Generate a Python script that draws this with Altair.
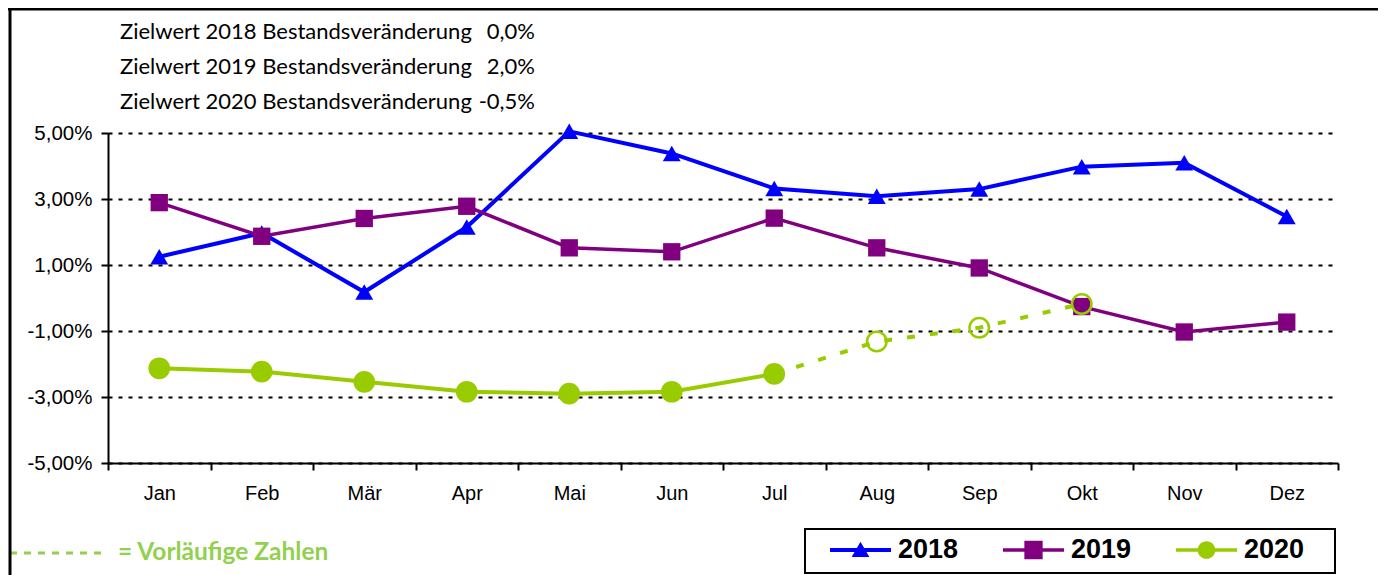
import altair as alt
import pandas as pd

# ---------------- data ----------------
months = ["Jan", "Feb", "Mär", "Apr", "Mai", "Jun", "Jul", "Aug", "Sep", "Okt", "Nov", "Dez"]
v2018 = [1.25, 1.97, 0.18, 2.15, 5.05, 4.38, 3.32, 3.08, 3.30, 3.98, 4.10, 2.47]
v2019 = [2.89, 1.87, 2.41, 2.78, 1.52, 1.40, 2.42, 1.52, 0.91, -0.26, -1.03, -0.73]
v2020 = [-2.13, -2.23, -2.54, -2.84, -2.90, -2.84, -2.30, -1.32, -0.90, -0.18]
n_final_2020 = 7  # Jan..Jul final, Aug..Okt preliminary

years = ["2018", "2019", "2020"]
colors = ["#0000FF", "#800080", "#99CC00"]

ziel_labels = ["Zielwert 2018 Bestandsveränderung",
               "Zielwert 2019 Bestandsveränderung",
               "Zielwert 2020 Bestandsveränderung"]
ziel_values = ["0,0%", "2,0%", "-0,5%"]
note_text = "= Vorläufige Zahlen"

rows = []
for yr, vals in zip(years, [v2018, v2019, v2020]):
    for i, v in enumerate(vals):
        rows.append({"Jahr": yr, "Monat": months[i], "idx": i, "Wert": v})
df = pd.DataFrame(rows)

# ---------------- encodings ----------------
x = alt.X("Monat:N",
          scale=alt.Scale(type="band", domain=months, paddingInner=0, paddingOuter=0),
          axis=alt.Axis(title=None, labelAngle=0, tickBand="extent",
                        labelFont="Liberation Sans", labelFontSize=20, labelColor="black",
                        labelPadding=13, tickSize=7, tickWidth=2, tickColor="black",
                        domainColor="black", domainWidth=2, grid=False))
y = alt.Y("Wert:Q",
          scale=alt.Scale(domain=[-5, 5], nice=False, zero=False),
          axis=alt.Axis(title=None, values=[-5, -3, -1, 1, 3, 5],
                        labelExpr="(datum.value < 0 ? '-' : '') + replace(format(abs(datum.value), '.2f'), '.', ',') + '%'",
                        labelFont="Liberation Sans", labelFontSize=20.5, labelColor="black",
                        labelPadding=9, tickSize=7, tickWidth=2, tickColor="black",
                        domainColor="black", domainWidth=2,
                        grid=True, gridColor="black", gridDash=[4, 6], gridWidth=2))

base = alt.Chart(df)

line18 = base.transform_filter("datum.Jahr == '2018'").mark_line(
    color=colors[0], strokeWidth=4).encode(x=x, y=y)
line19 = base.transform_filter("datum.Jahr == '2019'").mark_line(
    color=colors[1], strokeWidth=3.5).encode(x=x, y=y)
line20a = base.transform_filter(f"datum.Jahr == '2020' && datum.idx <= {n_final_2020 - 1}").mark_line(
    color=colors[2], strokeWidth=4).encode(x=x, y=y)
line20b = base.transform_filter(f"datum.Jahr == '2020' && datum.idx >= {n_final_2020 - 1}").mark_line(
    color=colors[2], strokeWidth=4, strokeDash=[8, 15]).encode(x=x, y=y)

pts18 = base.transform_filter("datum.Jahr == '2018'").mark_point(
    shape="triangle-up", filled=True, size=320, color=colors[0], opacity=1).encode(x=x, y=y)
pts19 = base.transform_filter("datum.Jahr == '2019'").mark_point(
    shape="square", filled=True, size=300, color=colors[1], opacity=1).encode(x=x, y=y)
pts20a = base.transform_filter(f"datum.Jahr == '2020' && datum.idx <= {n_final_2020 - 1}").mark_point(
    shape="circle", filled=True, size=470, color=colors[2], opacity=1).encode(x=x, y=y)
pts20b = base.transform_filter(f"datum.Jahr == '2020' && datum.idx >= {n_final_2020}").mark_point(
    shape="circle", filled=False, size=380, strokeWidth=2.5, color=colors[2], opacity=1).encode(x=x, y=y)

# ---------------- legend ----------------
paths = [
    "M-1,-0.065H1V0.065H-1Z M-0.29,0.23L0,-0.27L0.29,0.23Z",
    "M-1,-0.055H1V0.055H-1Z M-0.3,-0.3H0.3V0.3H-0.3Z",
    "M-1,-0.06H1V0.06H-1Z M-0.29,0A0.29,0.29 0 1,1 0.29,0A0.29,0.29 0 1,1 -0.29,0Z",
]
leg = alt.Legend(title=None, orient="none", legendX=722, legendY=405, direction="horizontal",
                 labelFont="Liberation Sans", labelFontSize=27, labelFontWeight="bold",
                 labelColor="black", symbolSize=3721, symbolStrokeWidth=0, symbolOpacity=1,
                 columnPadding=44, labelOffset=7, clipHeight=24, padding=0)
legend_layer = alt.Chart(df).transform_filter("false").mark_point(filled=True, opacity=1).encode(
    color=alt.Color("Jahr:N", scale=alt.Scale(domain=years, range=colors), legend=leg),
    shape=alt.Shape("Jahr:N", scale=alt.Scale(domain=years, range=paths), legend=leg),
)
one = pd.DataFrame({"k": [0]})
legend_box = alt.Chart(one).mark_rect(fill=None, stroke="black", strokeWidth=2).encode(
    x=alt.value(697), x2=alt.value(1227), y=alt.value(396), y2=alt.value(440))

# ---------------- annotations ----------------
ann_layers = []
for i, (lab, val) in enumerate(zip(ziel_labels, ziel_values)):
    ypos = [-101, -66, -31][i]
    d = pd.DataFrame({"lab": [lab], "val": [val]})
    ann_layers.append(alt.Chart(d).mark_text(align="left", baseline="middle", font="Lato",
                                             fontSize=22, color="black").encode(
        x=alt.value(12), y=alt.value(ypos), text="lab:N"))
    ann_layers.append(alt.Chart(d).mark_text(align="right", baseline="middle", font="Lato",
                                             fontSize=22, color="black").encode(
        x=alt.value(427), y=alt.value(ypos), text="val:N"))

note_dash = alt.Chart(one).mark_rule(color="#92D050", strokeWidth=3, strokeDash=[7, 7]).encode(
    x=alt.value(-98), x2=alt.value(-5), y=alt.value(420))
note = alt.Chart(pd.DataFrame({"t": [note_text]})).mark_text(
    align="left", baseline="middle", font="Lato", fontWeight="bold", fontSize=24.5,
    color="#92D050").encode(x=alt.value(10), y=alt.value(420), text="t:N")

frame_left = alt.Chart(one).mark_rule(color="black", strokeWidth=3).encode(
    x=alt.value(-98), y=alt.value(-125), y2=alt.value(442))
frame_top = alt.Chart(one).mark_rule(color="black", strokeWidth=3).encode(
    x=alt.value(-100), x2=alt.value(1270), y=alt.value(-124))

chart = alt.layer(
    line18, line19, line20a, line20b, pts18, pts19, pts20a, pts20b,
    legend_layer, legend_box, *ann_layers, note_dash, note, frame_left, frame_top
).properties(
    width=1230, height=330,
    autosize=alt.AutoSizeParams(type="none"),
    padding={"left": 100, "top": 125, "right": 40, "bottom": 112},
    background="white",
).configure_view(stroke=None)

chart.save("out.html", embed_options={"renderer": "svg", "actions": False})
